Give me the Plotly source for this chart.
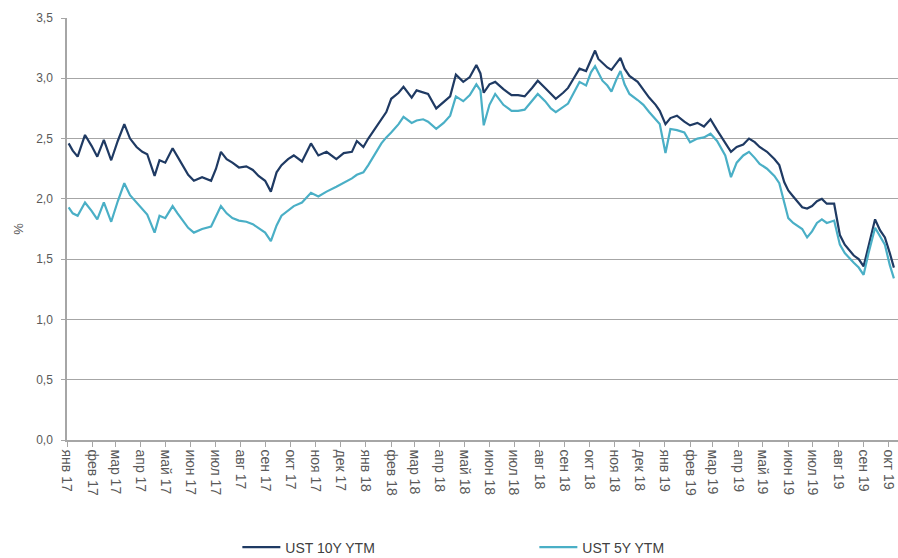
import plotly.graph_objects as go

dates = [
    "2017-01-03", "2017-01-08", "2017-01-14", "2017-01-23", "2017-01-31", "2017-02-07", "2017-02-15", "2017-02-24",
    "2017-03-04", "2017-03-12", "2017-03-19", "2017-03-27", "2017-04-03", "2017-04-09", "2017-04-18", "2017-04-24",
    "2017-05-01", "2017-05-10", "2017-05-16", "2017-05-22", "2017-05-29", "2017-06-05", "2017-06-15", "2017-06-26",
    "2017-07-02", "2017-07-08", "2017-07-15", "2017-07-22", "2017-07-30", "2017-08-08", "2017-08-16", "2017-08-23",
    "2017-08-31", "2017-09-07", "2017-09-14", "2017-09-20", "2017-09-28", "2017-10-05", "2017-10-15", "2017-10-26",
    "2017-11-04", "2017-11-14", "2017-11-26", "2017-12-05", "2017-12-15", "2017-12-21", "2017-12-29",
    "2018-01-04", "2018-01-12", "2018-01-20", "2018-01-26", "2018-02-01", "2018-02-10", "2018-02-16", "2018-02-26",
    "2018-03-04", "2018-03-12", "2018-03-18", "2018-03-28", "2018-04-06", "2018-04-14", "2018-04-21", "2018-04-30",
    "2018-05-08", "2018-05-16", "2018-05-21", "2018-05-25", "2018-06-01", "2018-06-08", "2018-06-18", "2018-06-28",
    "2018-07-06", "2018-07-14", "2018-07-23", "2018-07-30", "2018-08-08", "2018-08-15", "2018-08-21", "2018-08-30",
    "2018-09-05", "2018-09-12", "2018-09-19", "2018-09-27", "2018-10-03", "2018-10-08", "2018-10-12", "2018-10-17",
    "2018-10-23", "2018-10-28", "2018-11-03", "2018-11-08", "2018-11-13", "2018-11-19", "2018-11-29", "2018-12-06",
    "2018-12-13", "2018-12-21", "2018-12-26",
    "2019-01-02", "2019-01-08", "2019-01-16", "2019-01-25", "2019-02-01", "2019-02-10", "2019-02-18", "2019-02-26",
    "2019-03-06", "2019-03-16", "2019-03-23", "2019-03-30", "2019-04-07", "2019-04-14", "2019-04-21", "2019-04-27",
    "2019-05-06", "2019-05-15", "2019-05-21", "2019-05-27", "2019-06-01", "2019-06-07", "2019-06-18", "2019-06-24",
    "2019-06-30", "2019-07-06", "2019-07-12", "2019-07-18", "2019-07-27", "2019-08-03", "2019-08-09", "2019-08-20",
    "2019-08-26", "2019-09-01", "2019-09-07", "2019-09-15", "2019-09-21", "2019-09-27", "2019-10-03", "2019-10-08",
]

ust10y = [
    2.46, 2.40, 2.35, 2.53, 2.44, 2.35, 2.49, 2.32,
    2.48, 2.62, 2.50, 2.43, 2.39, 2.37, 2.19, 2.32,
    2.30, 2.42, 2.35, 2.28, 2.20, 2.15, 2.18, 2.15,
    2.25, 2.39, 2.33, 2.30, 2.26, 2.27, 2.24, 2.19,
    2.15, 2.06, 2.22, 2.28, 2.33, 2.36, 2.31, 2.46,
    2.36, 2.39, 2.33, 2.38, 2.39, 2.48, 2.43,
    2.50, 2.58, 2.66, 2.72, 2.83, 2.88, 2.93, 2.84,
    2.90, 2.88, 2.87, 2.75, 2.80, 2.85, 3.03, 2.97,
    3.01, 3.11, 3.04, 2.88, 2.95, 2.97, 2.91, 2.86,
    2.86, 2.85, 2.92, 2.98, 2.92, 2.87, 2.83, 2.88,
    2.92, 3.00, 3.08, 3.06, 3.15, 3.23, 3.16, 3.13,
    3.09, 3.07, 3.13, 3.17, 3.08, 3.02, 2.97, 2.90,
    2.84, 2.78, 2.73,
    2.62, 2.67, 2.69, 2.64, 2.61, 2.63, 2.60, 2.66,
    2.57, 2.47, 2.39, 2.43, 2.45, 2.50, 2.47, 2.43,
    2.39, 2.33, 2.28, 2.14, 2.07, 2.02, 1.93, 1.92,
    1.94, 1.98, 2.00, 1.96, 1.96, 1.70, 1.62, 1.53,
    1.50, 1.44, 1.60, 1.83, 1.74, 1.68, 1.55, 1.43,
]

ust5y = [
    1.93, 1.88, 1.86, 1.97, 1.90, 1.83, 1.97, 1.81,
    1.98, 2.13, 2.03, 1.97, 1.91, 1.87, 1.72, 1.86,
    1.84, 1.94, 1.88, 1.82, 1.76, 1.72, 1.75, 1.77,
    1.86, 1.94, 1.88, 1.84, 1.82, 1.81, 1.79, 1.76,
    1.72, 1.65, 1.78, 1.86, 1.90, 1.94, 1.97, 2.05,
    2.02, 2.06, 2.10, 2.13, 2.17, 2.20, 2.22,
    2.28, 2.37, 2.46, 2.51, 2.55, 2.62, 2.68, 2.63,
    2.65, 2.66, 2.64, 2.58, 2.63, 2.69, 2.85, 2.81,
    2.86, 2.95, 2.90, 2.61, 2.78, 2.87, 2.78, 2.73,
    2.73, 2.74, 2.81, 2.87, 2.81, 2.75, 2.72, 2.76,
    2.79, 2.88, 2.97, 2.94, 3.05, 3.10, 3.04, 2.98,
    2.94, 2.89, 2.99, 3.06, 2.95, 2.87, 2.82, 2.78,
    2.72, 2.66, 2.62,
    2.38, 2.58, 2.57, 2.55, 2.47, 2.50, 2.51, 2.54,
    2.48, 2.36, 2.18, 2.30, 2.36, 2.39, 2.34, 2.29,
    2.25, 2.19, 2.13, 1.97, 1.84, 1.80, 1.75, 1.68,
    1.73, 1.80, 1.83, 1.80, 1.82, 1.62, 1.55, 1.47,
    1.43, 1.37, 1.55, 1.76, 1.69, 1.62, 1.45, 1.34,
]

tick_dates = [
    "2017-01-01", "2017-02-01", "2017-03-01", "2017-04-01", "2017-05-01", "2017-06-01",
    "2017-07-01", "2017-08-01", "2017-09-01", "2017-10-01", "2017-11-01", "2017-12-01",
    "2018-01-01", "2018-02-01", "2018-03-01", "2018-04-01", "2018-05-01", "2018-06-01",
    "2018-07-01", "2018-08-01", "2018-09-01", "2018-10-01", "2018-11-01", "2018-12-01",
    "2019-01-01", "2019-02-01", "2019-03-01", "2019-04-01", "2019-05-01", "2019-06-01",
    "2019-07-01", "2019-08-01", "2019-09-01", "2019-10-01",
]
tick_labels = [
    "янв 17", "фев 17", "мар 17", "апр 17", "май 17", "июн 17",
    "июл 17", "авг 17", "сен 17", "окт 17", "ноя 17", "дек 17",
    "янв 18", "фев 18", "мар 18", "апр 18", "май 18", "июн 18",
    "июл 18", "авг 18", "сен 18", "окт 18", "ноя 18", "дек 18",
    "янв 19", "фев 19", "мар 19", "апр 19", "май 19", "июн 19",
    "июл 19", "авг 19", "сен 19", "окт 19",
]

FONT = "Liberation Sans"
GREY = "#595959"

fig = go.Figure()
fig.add_trace(go.Scatter(x=dates, y=ust10y, mode="lines", name="UST 10Y YTM",
                         line=dict(color="#1f3a63", width=2.2)))
fig.add_trace(go.Scatter(x=dates, y=ust5y, mode="lines", name="UST 5Y YTM",
                         line=dict(color="#4aafc6", width=2.2)))

fig.update_layout(
    width=898, height=558,
    margin=dict(l=67, r=0, t=18, b=118, autoexpand=False),
    plot_bgcolor="white", paper_bgcolor="white",
    separators=", ",
    font=dict(family=FONT, size=12, color=GREY),
    showlegend=True,
    legend=dict(orientation="h", x=0.205, xanchor="left", y=-0.255, yanchor="middle",
                font=dict(family=FONT, size=14, color="#404040"),
                entrywidth=244, entrywidthmode="pixels", itemwidth=38,
                bgcolor="rgba(0,0,0,0)"),
)

fig.update_xaxes(
    type="date",
    range=["2017-01-01", "2019-10-13"],
    tickvals=tick_dates, ticktext=tick_labels,
    tickangle=90,
    ticks="outside", ticklen=5, tickcolor="#a6a6a6",
    showgrid=False,
    showline=True, linecolor="#a6a6a6", linewidth=1.5,
    tickfont=dict(family=FONT, size=14, color=GREY),
    ticklabeloverflow="allow",
    automargin=False,
)
fig.update_yaxes(
    range=[0, 3.5], dtick=0.5, tick0=0,
    tickformat=".1f",
    showgrid=True, gridcolor="#a6a6a6", gridwidth=1.3,
    showline=True, linecolor="#a6a6a6", linewidth=1.5,
    ticks="outside", ticklen=4, tickcolor="#a6a6a6",
    ticklabelstandoff=6,
    zeroline=False,
    automargin=False,
    tickfont=dict(family=FONT, size=12, color=GREY),
    title=dict(text="%", font=dict(family=FONT, size=13, color=GREY), standoff=10),
)

fig.write_html(
    "out.html",
    config={"displayModeBar": False},
    post_script="document.body.style.margin='0';document.body.style.overflow='hidden';",
)
